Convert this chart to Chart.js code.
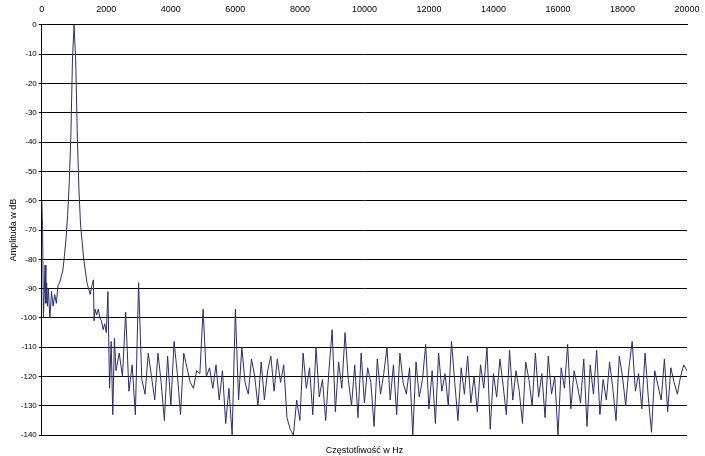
<!DOCTYPE html>
<html><head><meta charset="utf-8">
<script src="https://cdn.jsdelivr.net/npm/chart.js@4"></script>
<style>body{margin:0;background:#fff}#w{width:705px;height:456px}</style>
</head><body><div id="w"><canvas id="c"></canvas></div>
<script>
const xTicks=[0,2000,4000,6000,8000,10000,12000,14000,16000,18000,20000];
const yTicks=[0,-10,-20,-30,-40,-50,-60,-70,-80,-90,-100,-110,-120,-130,-140];
const lowFreqs=[0,25,50,75,100,125,150,175,200,250,300,350,400,450,500,550,600,650,700,750,800,850,900,950,1000,1050,1100,1150,1200,1250,1300,1400,1500,1550,1600,1620,1650,1700,1750,1800,1850,1900,1950,2000,2050,2100,2150,2200,2250];
const lowAmps=[-60,-70,-100,-92,-82,-95,-88,-96,-90,-100,-91,-96,-92,-95,-89,-88,-86,-84,-79,-73,-65,-54,-38,-12,0,-12,-38,-56,-68,-74,-80,-88,-92,-89,-87,-101,-97,-99,-97,-100,-101,-104,-102,-105,-91,-124,-108,-133,-107];
const noiseStart=2300, noiseStep=100;
const noiseAmps=[
-118,-112,-120,-98,-125,-116,-133,-88,-121,-126,-112,-120,-128,-112,-122,-135,-113,-130,-108,-119,
-133,-112,-117,-122,-124,-118,-119,-97,-120,-117,-124,-116,-128,-118,-136,-124,-140,-97,-128,-110,
-122,-126,-114,-120,-130,-115,-128,-118,-113,-125,-114,-122,-116,-134,-138,-140,-128,-135,-112,-124,
-117,-133,-110,-127,-121,-135,-118,-104,-132,-115,-124,-105,-121,-130,-116,-134,-112,-129,-117,-122,
-137,-114,-126,-119,-110,-128,-116,-133,-112,-122,-126,-117,-140,-115,-127,-121,-109,-131,-118,-136,
-112,-125,-119,-130,-108,-122,-135,-117,-126,-113,-129,-120,-132,-116,-124,-110,-138,-119,-127,-114,
-123,-133,-111,-128,-118,-125,-136,-115,-121,-130,-112,-127,-119,-134,-113,-126,-120,-140,-117,-124,
-109,-131,-118,-123,-129,-114,-137,-116,-126,-111,-133,-121,-128,-115,-124,-135,-113,-120,-130,-117,
-108,-125,-119,-131,-112,-127,-139,-118,-123,-128,-114,-132,-117,-122,-126,-120,-116,-118];
const freqs=lowFreqs.concat(noiseAmps.map((_,i)=>noiseStart+i*noiseStep));
const amps=lowAmps.concat(noiseAmps);
const pts=freqs.map((f,i)=>({x:f,y:amps[i]}));
new Chart(document.getElementById('c'),{type:'line',
data:{datasets:[{data:pts,borderColor:'#2b2f6e',borderWidth:1,pointRadius:0,tension:0}]},
options:{responsive:true,maintainAspectRatio:false,animation:false,
layout:{padding:{left:8,right:18,top:2,bottom:0}},
plugins:{legend:{display:false},tooltip:{enabled:false}},
scales:{
x:{type:'linear',position:'top',min:0,max:20000,afterBuildTicks:a=>{a.ticks=xTicks.map(v=>({value:v}));},
 grid:{display:false},border:{color:'#000'},ticks:{color:'#000',font:{family:'Liberation Sans',size:9},maxRotation:0,padding:2,callback:v=>String(v)}},
x2:{type:'linear',position:'bottom',min:0,max:20000,display:true,grid:{display:false},border:{display:false},ticks:{display:false},
 title:{display:true,text:'Częstotliwość w Hz',color:'#000',font:{family:'Liberation Sans',size:9},padding:{top:2,bottom:0}}},
y:{min:-140,max:0,afterBuildTicks:a=>{a.ticks=yTicks.map(v=>({value:v}));},
 grid:{color:'#000',lineWidth:1,drawTicks:true,tickLength:3},border:{color:'#000'},
 ticks:{color:'#000',font:{family:'Liberation Sans',size:8},padding:2},
 title:{display:true,text:'Amplituda w dB',color:'#000',font:{family:'Liberation Sans',size:9},padding:{top:0,bottom:0}}}
}}});
</script></body></html>
